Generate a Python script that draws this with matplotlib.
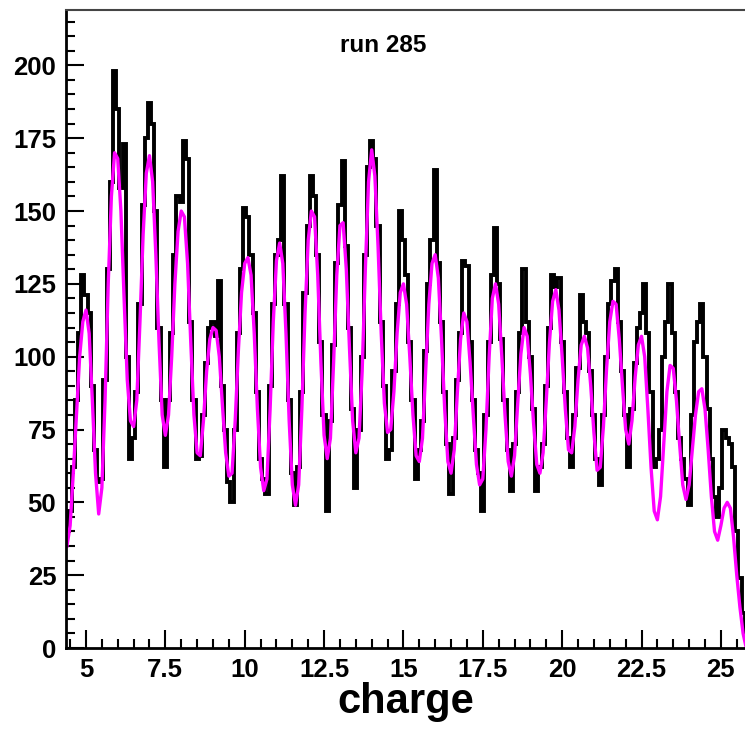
import numpy as np
import matplotlib
matplotlib.use("Agg")
import matplotlib.pyplot as plt
from matplotlib.ticker import MultipleLocator, FuncFormatter

plt.rcParams['font.family'] = ['Liberation Sans', 'DejaVu Sans']

# histogram binning: 0.1 wide bins, centres 4.4 ... 25.8
lo, hi, nbins = 4.35, 25.85, 215

# bin contents, one row per unit of charge
counts = [
    40, 47, 62, 85, 108, 128,                          # 4.4 - 4.9
    121, 115, 90, 68, 57, 58, 92, 130, 160, 198,       # 5.0 - 5.9
    185, 158, 173, 100, 65, 72, 88, 118, 152, 175,     # 6
    187, 180, 150, 110, 85, 62, 85, 108, 135, 155,     # 7
    153, 174, 168, 112, 85, 65, 66, 80, 98, 110,       # 8
    112, 107, 126, 90, 75, 57, 50, 75, 108, 130,       # 9
    151, 148, 135, 115, 88, 65, 58, 53, 90, 118,       # 10
    135, 140, 162, 118, 85, 60, 49, 62, 88, 122,       # 11
    145, 162, 155, 135, 105, 80, 47, 78, 104, 132,     # 12
    152, 167, 138, 110, 82, 55, 75, 100, 135, 165,     # 13
    174, 168, 145, 112, 90, 65, 68, 95, 118, 150,      # 14
    140, 128, 105, 85, 58, 68, 78, 102, 125, 140,      # 15
    164, 132, 112, 88, 70, 53, 72, 92, 108, 133,       # 16
    131, 105, 85, 68, 60, 47, 80, 105, 128, 144,       # 17
    125, 106, 85, 68, 54, 70, 88, 108, 130, 112,       # 18
    100, 82, 54, 62, 70, 90, 110, 128, 124, 127,       # 19
    105, 88, 72, 62, 80, 96, 121, 112, 108, 95,        # 20
    80, 65, 56, 80, 100, 118, 126, 130, 112, 95,       # 21
    80, 62, 82, 98, 110, 115, 125, 108, 88, 62,        # 22
    65, 75, 100, 112, 125, 108, 88, 72, 65, 58,        # 23
    49, 80, 105, 112, 118, 100, 82, 65, 52, 45,        # 24
    55, 75, 72, 70, 62, 40, 24, 12, 5,                 # 25.0 - 25.8
]

# fitted curve at the bin centres
fit = [
    35, 42, 60, 80, 100, 112,
    116, 108, 85, 60, 46, 55, 85, 125, 155, 170,
    168, 150, 120, 92, 78, 76, 85, 112, 142, 163,
    169, 160, 135, 105, 80, 73, 80, 100, 125, 143,
    150, 148, 132, 105, 80, 67, 66, 78, 95, 106,
    110, 109, 100, 83, 67, 59, 60, 78, 102, 122,
    132, 134, 128, 108, 82, 62, 54, 58, 82, 112,
    133, 139, 132, 108, 78, 56, 49, 56, 82, 115,
    140, 150, 148, 128, 98, 73, 65, 72, 98, 128,
    145, 146, 130, 103, 78, 67, 72, 95, 130, 160,
    171, 162, 138, 108, 84, 74, 75, 88, 108, 122,
    125, 118, 100, 80, 66, 64, 72, 95, 118, 132,
    135, 127, 106, 82, 64, 60, 68, 88, 106, 115,
    112, 98, 80, 63, 56, 58, 75, 100, 120, 125,
    118, 100, 80, 64, 59, 66, 84, 101, 110, 107,
    94, 77, 63, 60, 67, 85, 105, 119, 123, 116,
    100, 82, 68, 67, 76, 92, 104, 107, 103, 90,
    74, 61, 62, 76, 96, 112, 119, 118, 106, 90,
    75, 70, 78, 93, 104, 107, 100, 82, 62, 47,
    44, 52, 70, 88, 97, 96, 85, 70, 56, 51,
    56, 68, 80, 88, 89, 82, 68, 52, 40, 37,
    42, 48, 50, 48, 38, 25, 14, 5, 0,
]

edges = np.linspace(lo, hi, nbins + 1)
centres = 0.5 * (edges[:-1] + edges[1:])

fig = plt.figure(figsize=(7.45, 7.33), dpi=100)
ax = fig.add_axes([66/745, 85/733, 679/745, 638/733])

ax.stairs(counts, edges, color='black', lw=2.8)
ax.plot(centres, fit, color='#ff00ff', lw=2.4, solid_joinstyle='round')

ax.set_xlim(4.37, 25.76)
ax.set_ylim(0, 219)

ax.xaxis.set_major_locator(MultipleLocator(2.5))
ax.xaxis.set_minor_locator(MultipleLocator(0.5))
ax.yaxis.set_major_locator(MultipleLocator(25))
ax.yaxis.set_minor_locator(MultipleLocator(5))
ax.xaxis.set_major_formatter(FuncFormatter(lambda v, p: f"{v:g}"))

ax.tick_params(which='both', direction='in', top=False, right=False, width=1.5)
ax.tick_params(which='major', length=13, labelsize=18.5, pad=7)
ax.tick_params(which='minor', length=6.5)
for lab in ax.get_xticklabels() + ax.get_yticklabels():
    lab.set_fontweight('bold')

ax.spines['right'].set_visible(False)
ax.spines['top'].set_color('#444444')
ax.spines['top'].set_linewidth(1.5)
ax.spines['left'].set_linewidth(2)
ax.spines['bottom'].set_linewidth(2)

ax.set_xlabel('charge', fontsize=30, fontweight='bold', labelpad=0)
ax.text(0.467, 0.945, 'run 285', transform=ax.transAxes, ha='center',
        va='center', fontsize=17.5, fontweight='bold')

fig.savefig('out.png', dpi=100)
